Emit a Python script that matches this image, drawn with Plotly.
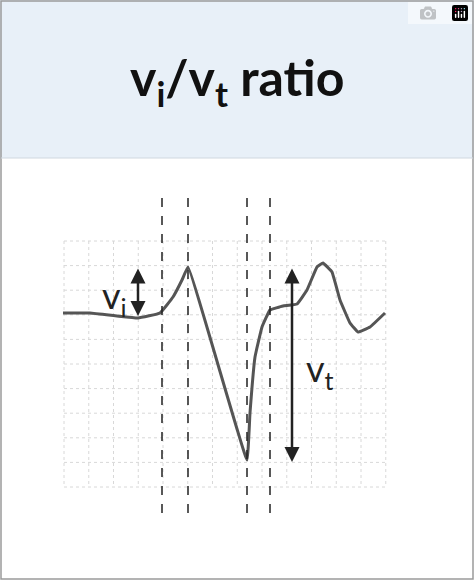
import plotly.graph_objects as go

# waveform (pixel units, y down)
wave_x = [63, 90, 117, 138, 160, 173, 182, 188, 247, 250, 255, 262, 270, 283, 297, 307, 317, 323, 332, 340, 350, 358, 370, 385]
wave_y = [313, 313, 316, 318, 313, 297, 280, 267, 460, 413, 357, 327, 310, 306, 304, 290, 267, 263, 272, 300, 323, 332, 327, 313]

marker_x = [162, 188, 247, 270]   # dashed timing lines
vi_arrow = (138, 267, 316)
vt_arrow = (292, 267, 462)

grid_x = [64 + i * 24.75 for i in range(14)]
grid_y = [241 + i * 24.6 for i in range(11)]

fig = go.Figure()

shapes = [
    dict(type="rect", x0=0, x1=474, y0=0, y1=158, fillcolor="#e8f0f8", line_width=0, layer="below"),
    dict(type="rect", x0=1, x1=473, y0=1, y1=579, line=dict(color="#9a9a9a", width=1.5)),
    dict(type="line", x0=1, x1=473, y0=158, y1=158, line=dict(color="#d0d8e0", width=1)),
]
for gx in grid_x:
    shapes.append(dict(type="line", x0=gx, x1=gx, y0=grid_y[0], y1=grid_y[-1],
                       line=dict(color="#d8d8d8", width=1, dash="dot"), layer="below"))
for gy in grid_y:
    shapes.append(dict(type="line", x0=grid_x[0], x1=grid_x[-1], y0=gy, y1=gy,
                       line=dict(color="#d8d8d8", width=1, dash="dot"), layer="below"))
for mx in marker_x:
    shapes.append(dict(type="line", x0=mx, x1=mx, y0=198, y1=522,
                       line=dict(color="#222", width=1.5, dash="dash")))

fig.add_trace(go.Scatter(x=wave_x, y=wave_y, mode="lines", line=dict(color="#555", width=3, shape="spline", smoothing=0.25),
                         hoverinfo="skip", showlegend=False))

ann = [
    dict(x=237, y=80, text="<b>v<sub>i</sub>/v<sub>t</sub> ratio</b>", showarrow=False,
         font=dict(family="Lato", size=50, color="#111")),
    dict(x=114, y=297, text="v<sub>i</sub>", showarrow=False, font=dict(family="Lato", size=36, color="#222")),
    dict(x=320, y=370, text="v<sub>t</sub>", showarrow=False, font=dict(family="Lato", size=36, color="#222")),
]
for ax_, y0, y1 in (vi_arrow, vt_arrow):
    ann.append(dict(x=ax_, y=y1, ax=ax_, ay=y0, xref="x", yref="y", axref="x", ayref="y", text="",
                    showarrow=True, arrowhead=2, startarrowhead=2, arrowside="end+start",
                    arrowsize=1.2, arrowwidth=2.5, arrowcolor="#222"))

fig.update_layout(
    width=474, height=580, margin=dict(l=0, r=0, t=0, b=0),
    plot_bgcolor="white", paper_bgcolor="white",
    xaxis=dict(range=[0, 474], visible=False, fixedrange=True),
    yaxis=dict(range=[580, 0], visible=False, fixedrange=True),
    shapes=shapes, annotations=ann,
)

fig.write_html("out.html")
# drop the browser's default body margin so the figure fills the window
with open("out.html", encoding="utf-8") as f:
    page = f.read()
page = page.replace("<head>", "<head><style>body{margin:0;overflow:hidden}</style>", 1)
with open("out.html", "w", encoding="utf-8") as f:
    f.write(page)
